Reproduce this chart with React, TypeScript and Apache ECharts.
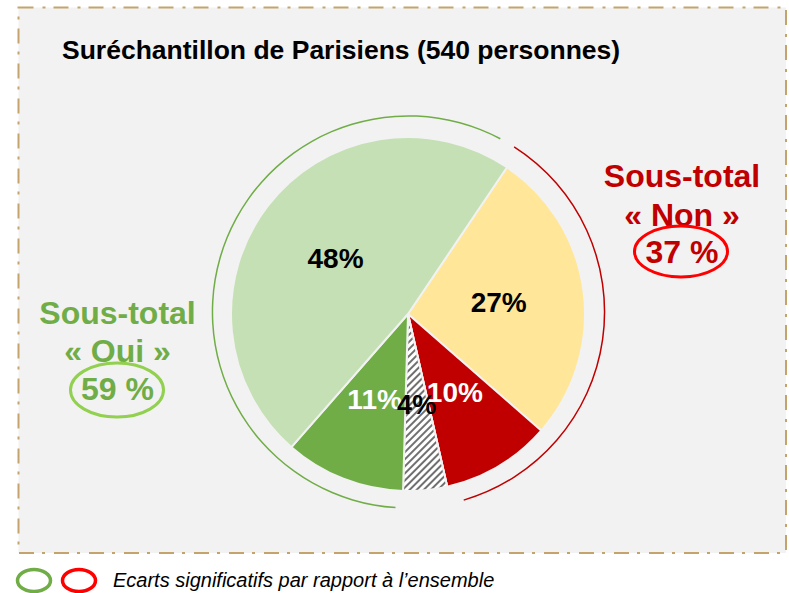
import React, { useEffect, useRef } from "react";
import * as echarts from "echarts";

const titleText = "Suréchantillon de Parisiens (540 personnes)";
const sliceNames = ["Non, plutôt pas", "Non, pas du tout", "Ne sait pas", "Oui, tout à fait", "Oui, plutôt"];
const sliceValues = [27, 10, 4, 11, 48];
const subtotalNames = ["Non", "", "Oui", ""];
const subtotalArcSpans = [36.4, 5.6, 56.7, 1.3];
const ouiLines = ["Sous-total", "« Oui »", "59 %"];
const nonLines = ["Sous-total", "« Non »", "37 %"];
const legendText = "Ecarts significatifs par rapport à l’ensemble";

const FONT = "'Liberation Sans', Arial, Helvetica, sans-serif";

export default function App() {
  const ref = useRef<HTMLDivElement>(null);
  useEffect(() => {
    document.body.style.margin = "0";
    const chart = echarts.init(ref.current!, undefined, { renderer: "svg" });
    const sliceColors = ["#ffe699", "#c00000", "#ffffff", "#70ad47", "#c5e0b4"];
    const labelColors = ["#000", "#fff", "#000", "#fff", "#000"];
    const arcColors = ["#c00000", "transparent", "#70ad47", "transparent"];
    const green = "#70ad47";
    const red = "#c00000";
    const lineYs = [0, 38.5, 76];
    const hatchIndex = 2;
    const graphic: any[] = [
      {
        type: "rect",
        z: -10,
        shape: { x: 18.5, y: 7.5, width: 767.5, height: 545.5 },
        style: { fill: "#f2f2f2", stroke: "#c4a46c", lineWidth: 2, lineDash: [15, 9, 3, 8] },
        silent: true,
      },
      {
        type: "text",
        left: 62,
        top: 36,
        style: { text: titleText, font: `bold 26.5px ${FONT}`, fill: "#000" },
      },
      ...ouiLines.map((t, i) => ({
        type: "text",
        x: 117.5,
        y: 312.5 + lineYs[i],
        style: { text: t, font: `bold 32px ${FONT}`, fill: green, align: "center", verticalAlign: "middle" },
      })),
      ...nonLines.map((t, i) => ({
        type: "text",
        x: 682,
        y: 176 + lineYs[i],
        style: { text: t, font: `bold 32px ${FONT}`, fill: red, align: "center", verticalAlign: "middle" },
      })),
      {
        type: "ellipse",
        shape: { cx: 117, cy: 390, rx: 46.5, ry: 27 },
        style: { fill: "none", stroke: "#92d050", lineWidth: 3 },
      },
      {
        type: "ellipse",
        shape: { cx: 681, cy: 251.5, rx: 46.5, ry: 25.5 },
        style: { fill: "none", stroke: "#ff0000", lineWidth: 3 },
      },
      {
        type: "ellipse",
        shape: { cx: 34, cy: 580.5, rx: 16.5, ry: 11 },
        style: { fill: "none", stroke: "#70ad47", lineWidth: 3.5 },
      },
      {
        type: "ellipse",
        shape: { cx: 79, cy: 580.5, rx: 16.5, ry: 11 },
        style: { fill: "none", stroke: "#ff0000", lineWidth: 3.5 },
      },
      {
        type: "text",
        x: 113,
        y: 580,
        style: { text: legendText, font: `italic 20px ${FONT}`, fill: "#000", verticalAlign: "middle" },
      },
    ];
    const option: any = {
      animation: false,
      backgroundColor: "#ffffff",
      graphic,
      series: [
        {
          type: "pie",
          silent: true,
          center: [408.5, 312],
          radius: [195.3, 196.8],
          startAngle: 57.4,
          clockwise: true,
          label: { show: false },
          labelLine: { show: false },
          emphasis: { disabled: true },
          data: subtotalArcSpans.map((v, i) => ({
            name: subtotalNames[i],
            value: v,
            itemStyle: { color: arcColors[i] },
          })),
        },
        {
          type: "pie",
          silent: true,
          center: [408, 314],
          radius: [0, 177],
          startAngle: 56,
          clockwise: true,
          avoidLabelOverlap: false,
          minShowLabelAngle: 0,
          emphasis: { disabled: true },
          labelLine: { show: false },
          label: {
            show: true,
            position: "inside",
            formatter: "{c}%",
            fontSize: 28,
            fontWeight: "bold",
            fontFamily: FONT,
          },
          itemStyle: { borderColor: "#f2f2f2", borderWidth: 2 },
          data: sliceValues.map((v, i) => ({
            name: sliceNames[i],
            value: v,
            label: { color: labelColors[i], show: i !== hatchIndex },
            itemStyle:
              i === hatchIndex
                ? {
                    color: "#ffffff",
                    decal: {
                      symbol: "rect",
                      symbolSize: 1,
                      dashArrayX: [1, 0],
                      dashArrayY: [1.2, 2.6],
                      rotation: -Math.PI / 4,
                      color: "#707070",
                    },
                  }
                : { color: sliceColors[i] },
          })),
        },
      ],
    };
    chart.setOption(option);
    // Label of the small hatched slice, placed from the pie's own layout
    try {
      const data = (chart as any).getModel().getSeriesByIndex(1).getData();
      const lay = data.getItemLayout(hatchIndex);
      const mid = (lay.startAngle + lay.endAngle) / 2;
      const rr = (lay.r + (lay.r0 || 0)) / 2;
      const lx = lay.cx + rr * Math.cos(mid);
      const ly = lay.cy + rr * Math.sin(mid) + 3;
      chart.setOption({
        graphic: [
          ...graphic,
          {
            type: "text",
            x: lx,
            y: ly,
            z: 100,
            style: {
              text: sliceValues[hatchIndex] + "%",
              font: `bold 27px ${FONT}`,
              fill: labelColors[hatchIndex],
              align: "center",
              verticalAlign: "middle",
            },
          },
        ],
      });
    } catch (e) {
      /* ignore */
    }
    return () => chart.dispose();
  }, []);
  return <div ref={ref} style={{ position: "absolute", left: 0, top: 0, width: 789, height: 593 }} />;
}
